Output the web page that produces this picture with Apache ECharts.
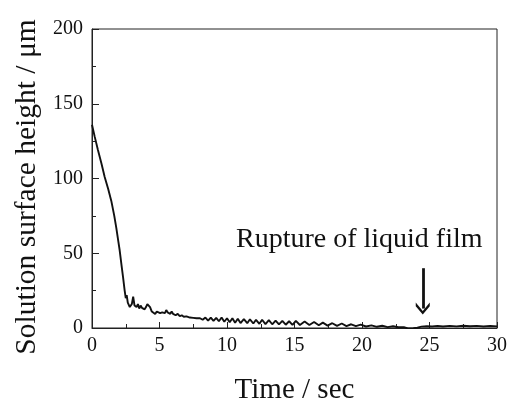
<!DOCTYPE html>
<html>
<head>
<meta charset="utf-8">
<script src="https://cdn.jsdelivr.net/npm/echarts@6/dist/echarts.min.js"></script>
<style>html,body{margin:0;padding:0;background:#fff;}#c{width:510px;height:399px;}</style>
</head>
<body>
<div id="c"></div>
<script>
var timeSec = [0,0.2,0.44,0.7,0.94,1.2,1.43,1.65,1.8,1.95,2.05,2.2,2.3,2.42,2.5,2.57,2.65,2.8,2.95,3.05,3.15,3.3,3.4,3.5,3.6,3.7,3.8,3.9,4.0,4.1,4.2,4.3,4.43,4.55,4.68,4.8,4.92,5.05,5.2,5.3,5.4,5.5,5.6,5.7,5.8,5.9,6.0,6.1,6.2,6.35,6.5,6.65,6.8,7.0,7.25,7.5,7.75,8.0,8.2,8.4,8.6,8.8,9.0,9.2,9.4,9.6,9.8,10.0,10.2,10.4,10.6,10.8,11.0,11.25,11.5,11.7,11.95,12.15,12.4,12.6,12.85,13.1,13.35,13.6,13.85,14.1,14.35,14.6,14.85,15.1,15.4,15.75,16.1,16.45,16.8,17.1,17.45,17.8,18.15,18.5,18.85,19.2,19.55,19.9,20.3,20.7,21.1,21.5,21.9,22.3,22.7,23.1,23.4,23.8,24.1,24.4,24.8,25.2,25.6,26,26.5,27,27.5,28,28.5,29,29.5,30];
var heightUm = [136,128,119,110,101,93,85,75,67,58,52,41,34,25,20,22,17,14,16,21,15,14,16,13,15,13.5,14.5,12.5,14,16,17,14,11,10,9.3,11,11.5,10,10.5,11.5,10,12,10.5,11.5,9.5,11,9.5,10.5,8.5,9.5,8,8.5,7.5,7.8,7,6.8,6.5,6.5,5.5,7,5,7,4.8,6.8,4.5,7,4.2,6.5,3.8,6.5,3.5,6.2,3.3,6,3.2,5.8,3,5.5,2.8,5.5,2.6,5.2,2.5,5,2.4,4.8,2.2,4.5,2.1,4.8,2,4.3,2,4,1.8,3.6,1.6,3.2,1.4,3,1.3,2.5,1.2,2.2,1,1.8,0.8,1.5,0.6,1.2,0.5,0.6,-0.3,-0.2,0.2,0.9,1.2,1,1.3,1,1.4,1.1,1.5,1.2,1.4,1,1.3,1.1];
var xTitle = 'Time / sec';
var yTitle = 'Solution surface height / \u03bcm';
var noteText = 'Rupture of liquid film';
var arrowFrom = [24.5, 40];
var arrowTo = [24.5, 13];

var pts = timeSec.map(function(t, i){ return [t, heightUm[i]]; });
var font = 'Liberation Serif';
var chart = echarts.init(document.getElementById('c'), null, {renderer:'canvas'});
chart.setOption({
  animation: false,
  grid: {left: 92, right: 13, top: 29, bottom: 71, outerBoundsMode: 'none', containLabel: false, show: true, borderColor: '#222', borderWidth: 1, backgroundColor: 'transparent'},
  xAxis: {
    type: 'value', min: 0, max: 30, interval: 5,
    name: xTitle, nameLocation: 'middle', nameGap: 48,
    nameTextStyle: {fontFamily: font, fontSize: 29, color: '#111'},
    axisLine: {show: true, onZero: false, lineStyle: {color: '#222', width: 1}},
    axisTick: {show: true, inside: true, length: 6, lineStyle: {color: '#222'}},
    minorTick: {show: true, splitNumber: 2, length: 4, lineStyle: {color: '#222'}},
    axisLabel: {fontFamily: font, fontSize: 20, color: '#111', margin: 8},
    splitLine: {show: false}
  },
  yAxis: {
    type: 'value', min: 0, max: 200, interval: 50,
    name: yTitle, nameLocation: 'middle', nameGap: 49, nameRotate: 90,
    nameTextStyle: {fontFamily: font, fontSize: 29.5, color: '#111', padding: [0, 17, 0, 0]},
    axisLine: {show: true, lineStyle: {color: '#222', width: 1}},
    axisTick: {show: true, inside: true, length: 7, lineStyle: {color: '#222'}},
    minorTick: {show: true, splitNumber: 2, length: 4, lineStyle: {color: '#222'}},
    axisLabel: {fontFamily: font, fontSize: 20, color: '#111', margin: 9},
    splitLine: {show: false}
  },
  series: [{
    type: 'line', data: pts, showSymbol: false, smooth: false,
    lineStyle: {color: '#111', width: 1.9},
    markLine: {
      silent: true,
      symbol: ['none', 'path://M6,0 L12,7 L12,10 L6,3 L0,10 L0,7 Z'],
      symbolSize: [14, 12],
      label: {show: false},
      lineStyle: {color: '#111', width: 2.8, type: 'solid'},
      data: [[{coord: arrowFrom}, {coord: arrowTo}]]
    }
  }],
  graphic: [{
    type: 'text', left: 236, top: 226,
    style: {text: noteText, font: '28px "Liberation Serif"', fill: '#111'}
  }]
});
</script>
</body>
</html>
